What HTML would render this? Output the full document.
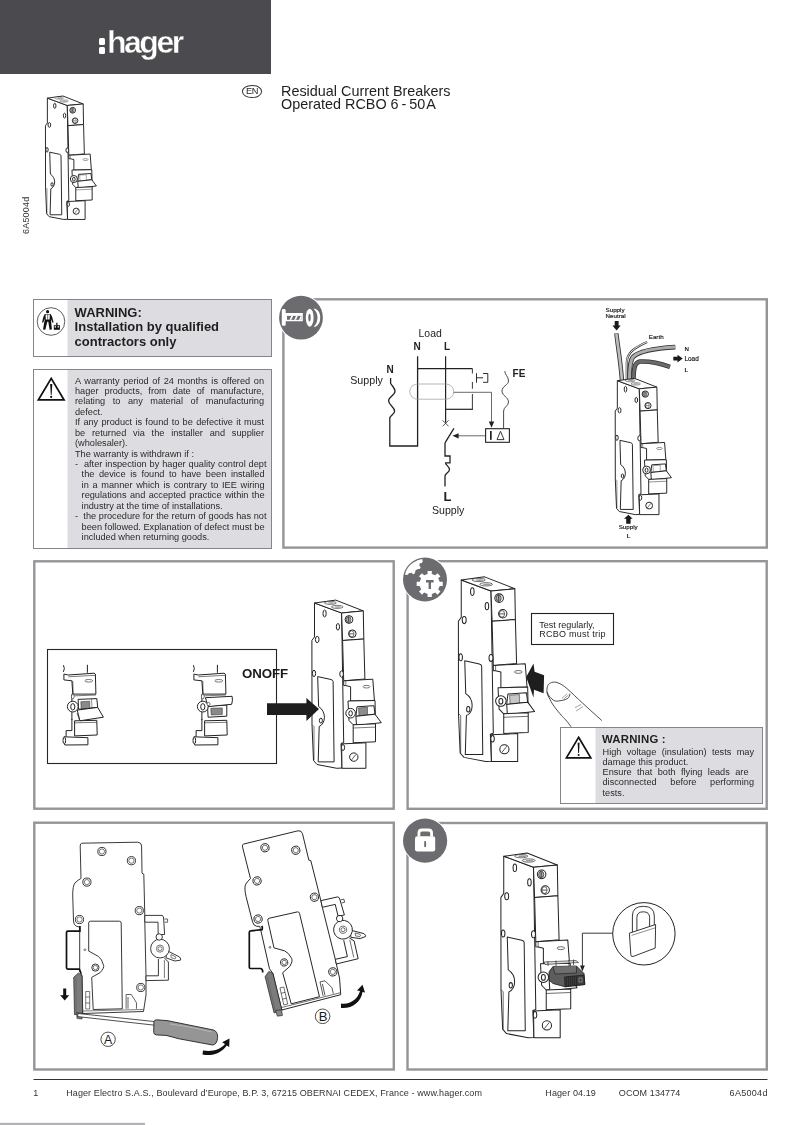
<!DOCTYPE html>
<html><head><meta charset="utf-8">
<style>
html,body{margin:0;padding:0;background:#fff;}
body{width:802px;height:1125px;position:relative;overflow:hidden;font-family:"Liberation Sans",sans-serif;color:#222;}
.a{position:absolute;white-space:nowrap;filter:grayscale(1);}
svg.g{position:absolute;left:0;top:0;}
.j{text-align:justify;text-align-last:justify;}
.wt div{height:10.45px;}
.wt2 div{height:10.3px;}
</style></head><body>
<svg class="g" width="802" height="1125" viewBox="0 0 802 1125">
<defs>
<g id="brk" stroke="#222" style="stroke-width:var(--sw,1)" fill="#fff" stroke-linejoin="round">
 <path d="M3.5,2.5 L30.6,12.5 L32.7,142 L30,143 L31,167.5 L25.8,167.8 L6,164 L2.5,160 L1,124 L0.9,40 L3.5,36.4 Z"/>
 <path d="M3.5,2.5 L24.7,-0.4 L52.3,10.4 L30.6,12.5 Z"/>
 <ellipse cx="19.4" cy="2.4" rx="6" ry="1.5" fill="#fff" stroke-width="0.6"/><ellipse cx="20.2" cy="2.5" rx="3.6" ry="0.8" fill="#999" stroke="none"/>
 <ellipse cx="26.2" cy="6.4" rx="5.8" ry="1.5" fill="#fff" stroke-width="0.6"/><ellipse cx="26.8" cy="6.5" rx="3.4" ry="0.8" fill="#999" stroke="none"/>
 <path d="M30.6,12.5 L52.3,10.4 L52.8,38.5 L31.6,40 Z"/>
 <path d="M31.6,40 L52.8,38.5 L53.9,78.5 L32.7,80.3 Z"/>
 <circle cx="38" cy="19" r="3.9"/><ellipse cx="37.6" cy="19.1" rx="2.3" ry="3" fill="#aaa" stroke-width="0.6"/><path d="M37.6,16.2 V22" stroke-width="0.7"/>
 <circle cx="41.3" cy="33.2" r="3.8"/><ellipse cx="40.6" cy="33.3" rx="2.4" ry="3" fill="none" stroke-width="0.6"/><path d="M38.4,33.3 H42.8" stroke-width="0.7"/>
 <ellipse cx="13.6" cy="13" rx="1.6" ry="3.5"/>
 <ellipse cx="26.9" cy="26.3" rx="1.6" ry="3.3"/>
 <ellipse cx="6.2" cy="39" rx="1.8" ry="3.2"/>
 <ellipse cx="3" cy="72.9" rx="1.6" ry="3.2"/>
 <ellipse cx="30.6" cy="73.5" rx="1.8" ry="3.2"/>
 <path d="M6.7,76.1 L20,79 Q22,79.6 22.1,81 L23.1,161.4 L7.2,161.4 L8.2,126 C15,123 15.5,111 7.6,106 Z" fill="#fff"/>
 <ellipse cx="9.9" cy="120.1" rx="1.5" ry="2.5"/>
 <path d="M1,124 L3,126 L3,160" fill="none" stroke-width="0.6"/>
 <path d="M32.7,80.3 L61.8,78.7 L63.4,99.9 L39.6,100.5 L39.6,86.2 L34.8,85.1 L32.7,85 Z"/>
 <path d="M34.8,85.1 L34.8,80.2" fill="none" stroke-width="0.6"/>
 <ellipse cx="55.5" cy="86.2" rx="3.5" ry="1.3" stroke-width="0.6"/>
 <path d="M37,100.5 L64,100 L64.5,123.3 L42.2,124.3 L38,120 Z"/>
 <path d="M46,106.3 L62.9,105.2 L64,113.7 L44.9,115.8 Z"/>
 <path d="M47.5,107.4 L56.5,106.8 L56.5,114.6 L48,115.1 Z" style="fill:var(--win,#8c8c8c)" stroke-width="0.5"/>
 <path d="M44.9,115.8 L64,113.7 L70.3,122.2 L45.5,125 Z"/>
 <circle cx="39.6" cy="112.7" r="4.8"/><ellipse cx="39.6" cy="112.9" rx="1.8" ry="2.6"/>
 <path d="M42.2,124.3 L64.5,123.3 L64.5,141.3 L42.2,142.3 Z"/>
 <path d="M42.2,127.5 L64.5,126.6" fill="none" stroke-width="0.6"/>
 <path d="M30.6,143.4 L54.9,142.3 L54.9,167.8 L31,167.8 Z"/>
 <ellipse cx="32" cy="147" rx="1.6" ry="3"/>
 <circle cx="42.8" cy="156.6" r="4.2"/><path d="M40.5,159.5 L45,153.8" stroke-width="0.7"/>
</g>
<g id="togc" stroke="#222" stroke-width="1" fill="#fff" stroke-linejoin="round">
 <path d="M63.4,665.2 Q65.3,668.5 63.4,671.9" fill="none"/>
 <path d="M87.4,664.8 V672.8" fill="none"/>
 <path d="M63.9,674.1 L68.3,675 L94.1,673.2 L95.4,674.1 L95.9,694.1 L72.8,694.1 L71.9,680.8 L63.9,679.9 Z"/>
 <path d="M68.3,676.8 L95.2,675.3 M72.8,680.8 L73.2,694.1 M72.8,695.9 L95.9,695" fill="none" stroke-width="0.6"/>
 <ellipse cx="88.8" cy="680.8" rx="4" ry="1.3" stroke-width="0.6"/>
 <path d="M71.9,719 V730.6 H66.1 V736.8" fill="none"/>
 <path d="M74.6,720.8 L96.8,720.3 L97.2,735 L74.6,735.9 Z"/>
 <path d="M74.6,722.8 L96.8,722.3" fill="none" stroke-width="0.6"/>
 <path d="M63.9,736.8 L87.9,737.7 L87.9,744.8 L64.8,745 Z"/>
 <ellipse cx="64.3" cy="740.5" rx="1.3" ry="3.3"/>
 <path d="M71.9,694.1 V720" fill="none"/>
 <ellipse cx="72.8" cy="696.6" rx="1.4" ry="2.3" stroke-width="0.6"/>
</g>
<g id="tog-on" stroke="#222" stroke-width="1" fill="#fff" stroke-linejoin="round">
 <path d="M78.1,699.4 L96.8,698.6 L97.7,707.4 L78.6,709.2 Z"/>
 <path d="M80.8,701.7 L89.7,701.2 L89.7,708.3 L81.2,708.8 Z" fill="#8a8a8a" stroke-width="0.5"/>
 <path d="M91.5,699 L92,708" fill="none" stroke-width="0.5"/>
 <path d="M77.2,710.1 L97.7,707.4 L103.4,717.2 L79.9,720.8 Z"/>
 <circle cx="72.8" cy="706.6" r="5.4"/><ellipse cx="72.8" cy="706.8" rx="2.1" ry="3.2"/>
 <path d="M77,713 L79.5,720" fill="none" stroke-width="0.6"/>
</g>
<g id="tog-off" stroke="#222" stroke-width="1" fill="#fff" stroke-linejoin="round">
 <path d="M77.5,706 L96.8,705 L96.8,716.2 L78.1,717.2 Z"/>
 <path d="M80.8,708.3 L92.3,707.9 L92.3,714.6 L81.2,715 Z" fill="#8a8a8a" stroke-width="0.5"/>
 <path d="M75.4,697.7 L102.1,696.3 Q103,700 101.7,704.3 L78.1,706.6 Z"/>
 <circle cx="72.8" cy="706.6" r="5.4"/><ellipse cx="72.8" cy="706.8" rx="2.1" ry="3.2"/>
 <circle cx="78.5" cy="704" r="1.6" stroke-width="0.6"/>
</g>
<g id="side" stroke="#222" stroke-width="0.9" fill="#fff" stroke-linejoin="round">
 <path d="M81.7,843.2 L137.8,842.2 Q141.6,842.5 141.6,846 L142,873.2 L143.8,874.2 L144.8,915.4 L144.8,922.2 L146,975.8 L146,995 L143.5,1011.5 L82.7,1013.5 L82,975.8 L79.7,970.6 L79.7,929.5 L79.5,927 L76.5,926.3 Q73.5,925 73.5,921 L72.7,894.9 Q72.7,886 75,882.9 Q78,880 81,878.4 L80.2,846 Q80.2,843.4 81.7,843.2 Z"/>
 <g fill="none">
 <circle cx="101.9" cy="851.5" r="4.1"/><circle cx="101.9" cy="851.5" r="2.6" stroke-width="0.6"/>
 <circle cx="131.4" cy="860.7" r="4.1"/><circle cx="131.4" cy="860.7" r="2.6" stroke-width="0.6"/>
 <circle cx="86.9" cy="882.1" r="4.1"/><circle cx="86.9" cy="882.1" r="2.6" stroke-width="0.6"/>
 <circle cx="139.3" cy="910.6" r="4.1"/><circle cx="139.3" cy="910.6" r="2.6" stroke-width="0.6"/>
 <circle cx="79.5" cy="919.5" r="4.1"/><circle cx="79.5" cy="919.5" r="2.6" stroke-width="0.6"/>
 <circle cx="140.8" cy="987.5" r="4.1"/><circle cx="140.8" cy="987.5" r="2.6" stroke-width="0.6"/>
 <path d="M90.5,921.2 H119.5 Q121,921.2 121.2,923 L122.3,1008.8 L93.2,1009.5 L91.7,977.3 L99.9,972.8 Q104.5,968 103.6,965.4 Q102,959 98.4,956.4 L88.7,951.1 L88.7,923 Q88.7,921.2 90.5,921.2 Z"/>
 <circle cx="95.4" cy="967.6" r="3.6"/><circle cx="95.4" cy="967.6" r="2.2" stroke-width="0.6"/>
 <circle cx="84.9" cy="949.7" r="0.9" stroke-width="0.6"/>
 <path d="M126.1,1008.8 V994.5 H131.3 L136.5,1002.8 V1008.8 M128,1008.8 V997" stroke-width="0.7"/>
 <path d="M85.7,991.5 H89.7 V1009 H85.7 Z M85.7,997 H89.7 M85.7,1003 H89.7" stroke-width="0.6"/>
 <path d="M82.7,1011 L143.5,1009.5" stroke-width="0.6"/>
 </g>
 <path d="M144.8,915.4 H162 Q163.6,916 163.6,918 L164.6,934.5 L158.2,934.5 L158,922.2 H144.8 Z"/>
 <path d="M164.4,919 H167.6 V922.2 H164.6" fill="none" stroke-width="0.7"/>
 <path d="M158.4,959 V975.8 H146 V980.6 L168.4,980.2 L168.4,962 L164.4,958" />
 <path d="M164.4,960 V978" fill="none" stroke-width="0.6"/>
 <path d="M167,950.6 L179.6,957 Q181.5,959.5 180.4,960.2 L174.8,961 L166,957.8 Z"/>
 <path d="M171,954.5 L175.5,956.8 Q176.5,958.5 175,959 L171,957.5 Z" fill="none" stroke-width="0.6"/>
 <circle cx="160" cy="948.6" r="9.4"/>
 <circle cx="160" cy="948.6" r="3.6" fill="none" stroke-width="0.6"/><circle cx="160" cy="948.6" r="2" fill="none" stroke-width="0.6"/>
 <circle cx="159.2" cy="937" r="3.2"/>
 <path d="M73.7,977.3 L78.5,973 L82,975.8 L82.7,1013.2 L74.5,1014.7 Z" fill="#7c7c7c" stroke-width="0.7"/>
 <path d="M76,978 V1012" fill="none" stroke="#555" stroke-width="0.5"/>
 <path d="M76.5,1012.5 L82.5,1013.3 L82,1019 L77,1018.5 Z" fill="#888" stroke="#222" stroke-width="0.6"/>
</g>
</defs>
<!-- header -->
<rect x="0" y="0" width="271" height="74" fill="#4b4b4f"/>
<!-- boxes -->
<g id="frames">
<rect x="33.5" y="299.5" width="238" height="57" fill="#dddce0" stroke="#858488" stroke-width="1"/>
<rect x="34" y="300" width="33.5" height="56" fill="#fff"/>
<rect x="33.5" y="369.5" width="238" height="179" fill="#dddce0" stroke="#858488" stroke-width="1"/>
<rect x="34" y="370" width="33.5" height="178" fill="#fff"/>
<rect x="283.4" y="299.3" width="483.4" height="248.3" fill="none" stroke="#959499" stroke-width="2.4"/>
<rect x="34.3" y="561.3" width="359.4" height="247.4" fill="none" stroke="#959499" stroke-width="2.4"/>
<rect x="407.6" y="561.2" width="359.1" height="247.6" fill="none" stroke="#959499" stroke-width="2.4"/>
<rect x="34.3" y="822.7" width="359.5" height="246.8" fill="none" stroke="#959499" stroke-width="2.4"/>
<rect x="407.5" y="823" width="359.3" height="246.5" fill="none" stroke="#959499" stroke-width="2.4"/>
</g>
<!--DRAW-->
<use href="#brk" transform="translate(311,600.5)"/>
<g id="wiring" fill="none" stroke="#222" stroke-width="1.2">
 <path d="M417.6,356.3 V446 H389.8 V418.4 C389.8,415.5 394.6,414.5 394.6,411.2 C394.6,407 388.6,405 388.6,400.8 C388.6,397 395,395 395,391.2 C395,388 392,386 390.6,383.2 V378" stroke-width="1.3"/>
 <path d="M445.6,356.3 V422.5"/>
 <path d="M417.7,368.6 H472.4"/>
 <path d="M472.4,368.6 V373.5 M472.4,382 V388.8 M472.4,394 V409.3" stroke-width="0.9"/>
 <path d="M472.9,409.3 H445.6"/>
 <path d="M476.5,373.1 V382.7 M476.5,377.8 H483.1 M483.1,373.5 H487.8 V382.3 H483.1" stroke-width="0.95"/>
 <path d="M417.4,384 H446.1 A7.6,7.6 0 0 1 446.1,399.2 H417.4 A7.6,7.6 0 0 1 417.4,384 Z" stroke="#9a9a9a" stroke-width="0.7"/>
 <path d="M453.7,392.3 H491.5 V423" stroke="#444" stroke-width="0.8"/>
 <path d="M488.8,421.5 L494.2,421.5 L491.5,427.8 Z" fill="#222" stroke="none"/>
 <rect x="485.6" y="428.7" width="23.8" height="13.6" stroke-width="1.1"/>
 <path d="M485.6,435.8 H457" stroke="#444" stroke-width="0.8"/>
 <path d="M452.4,435.8 L458.6,433.2 L458.6,438.4 Z" fill="#222" stroke="none"/>
 <path d="M503.6,428.7 V411 C503.6,407 508.5,406 508.5,402 C508.5,397 502,396 502,391 C502,386 508.5,385 508.5,381 C508.5,376 504.8,375 504.8,371.2" stroke="#333" stroke-width="0.9"/>
 <path d="M442.6,420.3 L448.6,426.3 M448.6,420.3 L442.6,426.3" stroke-width="0.8"/>
 <path d="M445,442.9 L453.9,428.3" stroke-width="1.3"/>
 <rect x="490" y="431" width="1.7" height="8.8" fill="#222" stroke="none"/>
 <path d="M497,439.6 L500.5,431.3 L504,439.6 Z" stroke-width="0.9"/>
 <path d="M445,442.9 V456 H450 V462.9 H445.6 C445.6,465 449.5,466.5 449.5,469.5 C449.5,472.5 445,473.5 445,476 V486.5" stroke-width="1.3"/>
</g>
<use href="#brk" style="--win:#fff;--sw:1.3" transform="translate(44.8,96.3) scale(0.734)"/>
<g id="wires" fill="none" stroke-linecap="butt">
 <path d="M616.4,333.4 C617.5,345 620.5,360 622,381" stroke="#333" stroke-width="4.4"/>
 <path d="M616.4,333.6 C617.5,345 620.5,360 622,381" stroke="#bdbdbd" stroke-width="2.7"/>
 <path d="M647.1,341.9 C636,347 627,352 626.8,362 V381" stroke="#333" stroke-width="2.2"/>
 <path d="M647.1,341.9 C636,347 627,352 626.8,362 V381" stroke="#fff" stroke-width="0.9"/>
 <path d="M675.3,347.1 C660,348 640,350 633,357 C630,361 629.5,368 629.5,381" stroke="#333" stroke-width="4.6"/>
 <path d="M675.3,347.1 C660,348 640,350 633,357 C630,361 629.5,368 629.5,381" stroke="#ababab" stroke-width="3"/>
 <path d="M670,366.8 C662,364 650,361 640,361.5 C635,362.5 633.4,366 633.4,384" stroke="#333" stroke-width="4.6"/>
 <path d="M670,366.8 C662,364 650,361 640,361.5 C635,362.5 633.4,366 633.4,384" stroke="#6b6b6b" stroke-width="3"/>
</g>
<g fill="#1a1a1a">
 <path d="M614.7,321 H618.6 V325.5 H620.7 L616.6,330.4 L612.4,325.5 H614.7 Z"/>
 <path d="M673.3,356.8 H677.5 V354.7 L682.7,358.6 L677.5,362.6 V360.4 H673.3 Z"/>
 <path d="M628.4,514.8 L632.7,518.7 H630.6 V523.7 H626.2 V518.7 H624 Z"/>
</g>
<use href="#brk" style="--win:#fff;--sw:1.2" transform="translate(614.5,378.7) scale(0.81)"/>
<use href="#brk" style="--win:#c8c8c8;--sw:0.92" transform="translate(457.4,577.3) scale(1.098)"/>
<use href="#brk" style="--sw:0.92" transform="translate(499.9,853.5) scale(1.098)"/>
<g id="box2">
 <rect x="47.5" y="649.5" width="229" height="114" fill="none" stroke="#262626" stroke-width="1.1"/>
 <path d="M267,703.2 H306.4 V698 L319,709.1 L306.4,721 V715 H267 Z" fill="#1e1e1e"/>
</g>
<use href="#togc"/><use href="#tog-on"/>
<use href="#togc" transform="translate(130,0)"/><use href="#tog-off" transform="translate(130,0)"/>
<g id="box3">
 <rect x="531.5" y="613.5" width="82" height="31" fill="#fff" stroke="#222" stroke-width="1.1"/>
 <path d="M526.2,676.9 L533.5,663.4 L534.6,671.8 L544.1,675.2 L543.6,693.2 L534,689.8 L533.5,697.6 Z" fill="#1e1e1e"/>
 <path d="M571.1,726.8 C567,721 564,718 561.5,715.6 C556,709 552,704 550.3,699.9 C548,696 546.5,693 546.9,690.9 C547,686 548,684 550.3,683.1 C552,682 554,682 555.9,682.2 C560,683 564,686 567.1,688.7 C572,693 577,698 582.8,703.3 C589,709 595,714.5 601.9,720.6" fill="#fff" stroke="#222" stroke-width="0.8"/>
 <path d="M547.2,692 C548,695 550,697.5 552,699 C554,701 556,701.5 558.2,701 C562,700.5 565,700 567.1,698.8 C569,697.5 570,695.5 569.9,693.7" fill="none" stroke="#222" stroke-width="0.8"/>
 <path d="M562.1,698.2 L567.1,693.7 M563.5,699.3 L568.5,695" fill="none" stroke="#444" stroke-width="0.5"/>
 <path d="M575,707.7 L581.2,704.4 M576.1,711.1 L582.8,706.6" fill="none" stroke="#444" stroke-width="0.5"/>
 <rect x="560.5" y="727.5" width="202" height="76" fill="#dddce0" stroke="#858488" stroke-width="1"/>
 <rect x="561" y="728" width="34.5" height="75" fill="#fff"/>
 <path d="M578.6,737.3 L590.8,757.9 L566.4,757.9 Z" fill="none" stroke="#111" stroke-width="1.7" stroke-linejoin="miter"/>
 <path d="M577.6,742.7 H579.6 L579,753 H578.2 Z" fill="#111"/>
 <circle cx="578.6" cy="754.9" r="1" fill="#111"/>
</g>
<g id="box4">
<use href="#side"/>
<path d="M79.9,925.9 V931.2 H67.8 Q66.5,931.2 66.5,932.5 V967.8 Q66.5,969.1 67.8,969.1 H79.3 L81.1,973.5" fill="none" stroke="#111" stroke-width="1.7"/>
<path d="M63.2,988.6 H66.2 V995.3 H69.2 L64.7,1000.5 L60.2,995.3 H63.2 Z" fill="#111"/>
<path d="M78,1013.5 L155,1021.6 L154.6,1025.2 L77.6,1016.6 Z" fill="#fff" stroke="#222" stroke-width="0.8"/>
<path d="M153.9,1021.5 Q154.5,1019.8 156.6,1019.8 L167,1020.6 Q172,1021.5 178,1022.8 L213.5,1030 Q217.8,1031.5 217.6,1037.5 Q217,1044.8 212.5,1045 L178,1038.6 Q172,1036.8 166,1035.4 L156.3,1034.9 Q154,1034.6 153.7,1032.5 Z" fill="#959595" stroke="#222" stroke-width="0.9"/>
<path d="M170,1024 Q195,1027.5 212,1032" fill="none" stroke="#b5b5b5" stroke-width="1.2"/>
<circle cx="108.1" cy="1039.3" r="7.2" fill="none" stroke="#222" stroke-width="0.8"/>
<text x="108.1" y="1043.7" font-family="Liberation Sans" font-size="13" text-anchor="middle" fill="#1a1a1a" textLength="8.2" lengthAdjust="spacingAndGlyphs">A</text>
<use href="#side" transform="translate(242.3,845.9) rotate(-12.7) translate(-80.2,-844.7)"/>
<path d="M261.8,925.9 Q262.8,928 262,929.6 L250.5,930.9 Q249.3,931 249.3,932.3 V967.2 Q249.3,968.5 250.6,968.5 H260.5 Q262.7,969 262.7,971.5 V972.5" fill="none" stroke="#111" stroke-width="1.7"/>
<circle cx="322.6" cy="1016.3" r="7.3" fill="none" stroke="#222" stroke-width="0.8"/>
<text x="323.2" y="1020.7" font-family="Liberation Sans" font-size="13" text-anchor="middle" fill="#1a1a1a">B</text>
<path d="M203,1050.5 C212,1052 220,1050 225,1044 L222.2,1042.2 L229.5,1038.5 L229.2,1047 L226.8,1045.5 C221,1053.5 212,1056.5 202.5,1054.5 Z" fill="#111"/>
<path d="M341,1003.5 C350,1005 358,999 360,991 L357,990.5 L362.5,984.7 L365,992.5 L362.5,992 C361,1002 352,1009 341,1008 Z" fill="#111"/>
</g>
<g id="box5">
<path d="M544,962 L576,960.5 L578.5,962.5 L545,964.5 Z" fill="#ddd" stroke="#222" stroke-width="0.6"/>
<path d="M548,961 V966 M556,960.6 V966 M569,960 V966 M573.5,959.5 V965" stroke="#222" stroke-width="0.7"/>
<path d="M553,966.5 L576.5,966 L580,969.5 L584,973.5 L584.8,984.5 L565,986.8 L553,983.5 L549,980 L549,972 Z" fill="#5d5d5d" stroke="#1a1a1a" stroke-width="0.8"/>
<path d="M553,966.5 L555,974 L576.5,973 L576.5,966" fill="#6e6e6e" stroke="#1a1a1a" stroke-width="0.6"/>
<path d="M564.5,977 L584,975 L584.8,984.5 L565,986.8 Z" fill="#3c3c3c" stroke="#111" stroke-width="0.6"/>
<path d="M566.5,977 V986.5 M568.5,976.8 V986.3 M570.5,976.6 V986 M572.5,976.4 V985.8 M574.5,976.2 V985.5 M576.5,976 V985.3" stroke="#222" stroke-width="0.7"/>
<rect x="579" y="978" width="3" height="4" fill="none" stroke="#bbb" stroke-width="0.5"/>
<circle cx="643.9" cy="933.8" r="31.2" fill="#fff" stroke="#222" stroke-width="1"/>
<path d="M612.7,933.2 H582.4 V966" fill="none" stroke="#222" stroke-width="0.9"/>
<path d="M580,965.5 H584.8 L582.4,971.6 Z" fill="#222"/>
<path d="M632.4,932.5 V916 Q632.4,906.3 643.3,906.3 Q654.3,906.3 654.3,916 V925 M636.9,931.5 V917.5 Q636.9,911.8 643.3,911.8 Q649.6,911.8 649.6,917.5 V926.5" fill="#fff" stroke="#222" stroke-width="0.9"/>
<path d="M629.4,933.2 L655.6,924.5 L655.2,948.1 L633,956.5 Q630.8,957 630.8,954.5 Z" fill="#fff" stroke="#222" stroke-width="0.9"/>
<path d="M631.5,935.4 L655.4,927.8" fill="none" stroke="#444" stroke-width="0.6"/>
</g>
<g id="icons">
<circle cx="51" cy="321.5" r="13.8" fill="none" stroke="#333" stroke-width="0.8"/>
<g fill="#111">
 <circle cx="47.6" cy="311.7" r="1.6"/>
 <path d="M44.8,314 L50.6,314 L52.2,317 L53.6,322.5 L52.3,322.6 L51,319 L51,320.5 L51.9,329.6 L49.6,329.8 L48.3,321.8 L47.3,321.8 L45.3,329.8 L43,329.6 L44.6,320.5 L44.4,318.8 L43.4,322.6 L42,322.5 L43.4,316.8 Z"/>
 <path d="M45.6,314.6 H49.8 L49.6,319.6 H45.8 Z" fill="#fff"/>
 <rect x="47.5" y="314.6" width="0.6" height="5" fill="#111"/>
 <rect x="53.8" y="325.2" width="6.1" height="4.6"/>
 <rect x="56.2" y="322.8" width="1.3" height="2.6"/>
 <rect x="54.6" y="326.2" width="1.4" height="1.3" fill="#fff"/><rect x="57.6" y="326.2" width="1.4" height="1.3" fill="#fff"/>
</g>
<path d="M51.2,378.4 L64,399.8 L38.4,399.8 Z" fill="none" stroke="#111" stroke-width="1.8" stroke-linejoin="miter"/>
<path d="M50.1,384.1 H52.3 L51.6,395 H50.8 Z" fill="#111"/>
<circle cx="51.2" cy="396.9" r="1.1" fill="#111"/>
<!-- wire icon -->
<rect x="280" y="296" width="21" height="22" fill="#fff"/><circle cx="301" cy="317.7" r="23" fill="#fff"/>
<circle cx="301" cy="317.7" r="21.9" fill="#6c6b70"/>
<path d="M283,309 H284.6 Q285.7,309 285.7,310.5 V312.9 H302.8 V321.3 H285.7 V324.4 Q285.7,325.8 284.6,325.8 H283 Q281.8,325.8 281.8,324.4 V310.5 Q281.8,309 283,309 Z" fill="#fff"/>
<rect x="287" y="315.9" width="14.6" height="3.9" fill="#6c6b70"/>
<path d="M289.5,319.8 L291.3,315.9 H293.1 L291.3,319.8 Z M294.2,319.8 L296,315.9 H297.8 L296,319.8 Z M298.9,319.8 L300.7,315.9 H301.6 V319.8 Z" fill="#fff"/>
<ellipse cx="309.7" cy="317.7" rx="3.9" ry="9" fill="#fff"/>
<ellipse cx="309.5" cy="317.6" rx="1.2" ry="3.9" fill="#6c6b70"/>
<path d="M313.6,308.8 H315.5 Q320.2,311 320.2,317.7 Q320.2,324.5 315.5,326.7 H313.6 Q317.5,323 317.5,317.7 Q317.5,312.5 313.6,308.8 Z" fill="#fff"/>
<!-- gear icon -->
<rect x="404" y="558" width="21" height="21.5" fill="#fff"/><circle cx="425" cy="579.5" r="23" fill="#fff"/>
<circle cx="425" cy="579.5" r="22" fill="#6c6b70"/>
<clipPath id="gclip"><circle cx="425" cy="579.5" r="20.7"/></clipPath>
<path d="M422.4,556 L422.4,560.1 L422.8,561.6 L421.8,563.1 L419.6,563.5 L419.4,565.7 L420.7,567.2 L420,568.7 L417.3,569.3 L415.3,570.6 L415.3,572.1 L414,574.3 L412.5,574 L411.9,572.8 L408.7,573.2 L408,574.7 L405.7,574.7 L400,575 L400,556 Z" fill="#fff" clip-path="url(#gclip)"/>
<path d="M427.63,573.91 L427.53,570.88 L431.87,570.88 L431.77,573.91 L435.30,575.37 L437.37,573.16 L440.44,576.23 L438.23,578.30 L439.69,581.83 L442.72,581.73 L442.72,586.07 L439.69,585.97 L438.23,589.50 L440.44,591.57 L437.37,594.64 L435.30,592.43 L431.77,593.89 L431.87,596.92 L427.53,596.92 L427.63,593.89 L424.10,592.43 L422.03,594.64 L418.96,591.57 L421.17,589.50 L419.71,585.97 L416.68,586.07 L416.68,581.73 L419.71,581.83 L421.17,578.30 L418.96,576.23 L422.03,573.16 L424.10,575.37 Z" fill="#fff"/>
<path d="M426,580 H433.6 V582.4 H431 V589 H428.6 V582.4 H426 Z" fill="#6c6b70"/>
<!-- lock icon -->
<rect x="404" y="819.5" width="21.1" height="21.2" fill="#fff"/><circle cx="425.1" cy="840.7" r="23" fill="#fff"/>
<circle cx="425.1" cy="840.7" r="22.1" fill="#6c6b70"/>
<path d="M418.9,836.5 V833 Q418.9,830 422,830 H428.4 Q431.6,830 431.6,833 V836.5" fill="none" stroke="#fff" stroke-width="2.8"/>
<rect x="415" y="836.2" width="20.2" height="15.3" rx="2.2" fill="#fff"/>
<rect x="424.2" y="841" width="1.9" height="6.2" rx="0.9" fill="#6c6b70"/>
</g>
<!--/DRAW-->
<!-- footer line -->
<rect x="33.5" y="1079" width="734" height="1" fill="#333"/>
<rect x="0" y="1122.8" width="145" height="2.2" fill="#b4b4b6"/>
</svg>

<!-- header logo -->
<div class="a" style="left:99px;top:38px;width:6.2px;height:6.5px;border-radius:1.5px;background:#fff"></div>
<div class="a" style="left:99px;top:47.3px;width:6.2px;height:6.5px;border-radius:1.5px;background:#fff"></div>
<div class="a" style="left:107px;top:22px;font-size:32px;line-height:40px;font-weight:bold;color:#fff;letter-spacing:-2.5px;-webkit-text-stroke:0.4px #4b4b4f;paint-order:normal">hager</div>

<!-- title -->
<div class="a" style="left:281px;top:84.6px;font-size:14.4px;line-height:13.7px;letter-spacing:0px;color:#1e1e1e">Residual Current Breakers<br>Operated RCBO 6&thinsp;-&thinsp;50&#8202;A</div>
<div class="a" style="left:242.2px;top:85.3px;width:17.8px;height:10.5px;border:0.9px solid #333;border-radius:50%;font-size:9.2px;line-height:10.5px;text-align:center;letter-spacing:-0.4px;color:#222">EN</div>
<div class="a" style="left:21.5px;top:234px;font-size:9px;line-height:8px;letter-spacing:0.2px;color:#333;transform:rotate(-90deg);transform-origin:0 0">6A5004d</div>

<!-- warning 1 -->
<div class="a" style="left:74.6px;top:306px;font-size:13px;line-height:14.3px;font-weight:bold;letter-spacing:0px;color:#1e1e1e">WARNING:<br>Installation by qualified<br>contractors only</div>

<!-- warranty -->
<div class="a wt" style="left:75px;top:375.5px;width:189px;font-size:9.2px;line-height:10.45px;color:#2a2a2a;white-space:normal">
<div class="j">A warranty period of 24 months is offered on</div>
<div class="j">hager products, from date of manufacture,</div>
<div class="j">relating to any material of manufacturing</div>
<div>defect.</div>
<div class="j">If any product is found to be defective it must</div>
<div class="j">be returned via the installer and supplier</div>
<div>(wholesaler).</div>
<div>The warranty is withdrawn if :</div>
<div class="j" style="width:191.5px">-&nbsp; after inspection by hager quality control dept</div>
<div class="j" style="margin-left:6.6px;width:183px">the device is found to have been installed</div>
<div class="j" style="margin-left:6.6px;width:183px">in a manner which is contrary to IEE wiring</div>
<div class="j" style="margin-left:6.6px;width:183px">regulations and accepted practice within the</div>
<div style="margin-left:6.6px">industry at the time of installations.</div>
<div class="j" style="width:191.5px">-&nbsp; the procedure for the return of goods has not</div>
<div class="j" style="margin-left:6.6px;width:183px">been followed. Explanation of defect must be</div>
<div style="margin-left:6.6px">included when returning goods.</div>
</div>


<!-- wiring labels -->
<div class="a" style="left:418.6px;top:328.9px;font-size:10.4px;line-height:10px">Load</div>
<div class="a" style="left:413.5px;top:341.6px;font-size:10px;line-height:10px;font-weight:bold">N</div>
<div class="a" style="left:444px;top:341.6px;font-size:10px;line-height:10px;font-weight:bold">L</div>
<div class="a" style="left:386.5px;top:365.1px;font-size:10px;line-height:10px;font-weight:bold">N</div>
<div class="a" style="left:350.2px;top:375.3px;font-size:10.7px;line-height:10.3px">Supply</div>
<div class="a" style="left:512.6px;top:369px;font-size:10px;line-height:10px;font-weight:bold">FE</div>
<div class="a" style="left:443.4px;top:489.9px;font-size:13px;line-height:13px;font-weight:bold">L</div>
<div class="a" style="left:432px;top:505.3px;font-size:10.6px;line-height:10.3px">Supply</div>

<div class="a" style="left:605.6px;top:306.9px;font-size:6.2px;line-height:6.2px;color:#111;-webkit-text-stroke:0.15px #111">Supply<br>Neutral</div>
<div class="a" style="left:648.8px;top:334.3px;font-size:6.2px;line-height:6.2px;color:#111;-webkit-text-stroke:0.15px #111">Earth</div>
<div class="a" style="left:684.5px;top:345.8px;font-size:6.2px;line-height:6.2px;font-weight:bold;color:#222">N</div>
<div class="a" style="left:684.5px;top:355.6px;font-size:6.4px;line-height:6.6px;color:#111;-webkit-text-stroke:0.15px #111">Load</div>
<div class="a" style="left:684.5px;top:366.7px;font-size:6.2px;line-height:6.2px;font-weight:bold;color:#222">L</div>
<div class="a" style="left:618.7px;top:524.4px;font-size:6.2px;line-height:6.2px;color:#111;-webkit-text-stroke:0.15px #111">Supply</div>
<div class="a" style="left:626.8px;top:532.5px;font-size:6.2px;line-height:6.2px;font-weight:bold;color:#222">L</div>

<div class="a" style="left:242.1px;top:666.8px;font-size:13.3px;line-height:13px;font-weight:bold;letter-spacing:-0.15px;color:#1a1a1a">ONOFF</div>

<div class="a" style="left:539.2px;top:620.5px;font-size:9px;line-height:9.9px;color:#1e1e1e">Test regularly,<br><span style="letter-spacing:0.25px">RCBO must trip</span></div>
<div class="a" style="left:602px;top:734px;font-size:11.4px;line-height:11.4px;font-weight:bold;letter-spacing:0.2px;color:#1e1e1e">WARNING :</div>
<div class="a wt2" style="left:602.5px;top:746.5px;width:151.5px;font-size:9.2px;line-height:10.3px;color:#2a2a2a;white-space:normal">
<div class="j">High voltage (insulation) tests may</div>
<div>damage this product.</div>
<div class="j" style="width:146px">Ensure that both flying leads are</div>
<div class="j">disconnected before performing</div>
<div>tests.</div>
</div>


<!-- footer -->
<div class="a" style="left:33.3px;top:1088px;font-size:9px;line-height:10px;color:#333">1</div>
<div class="a" style="left:66.2px;top:1088px;font-size:9px;line-height:10px;color:#333;letter-spacing:0.1px">Hager Electro S.A.S., Boulevard d&rsquo;Europe, B.P. 3, 67215 OBERNAI CEDEX, France - www.hager.com</div>
<div class="a" style="left:545.3px;top:1088px;font-size:9px;line-height:10px;color:#333;letter-spacing:0.1px">Hager 04.19</div>
<div class="a" style="left:618.8px;top:1088px;font-size:9px;line-height:10px;color:#333;letter-spacing:0.1px">OCOM 134774</div>
<div class="a" style="left:729.6px;top:1088px;font-size:9px;line-height:10px;color:#333;letter-spacing:0.3px">6A5004d</div>
</body></html>
